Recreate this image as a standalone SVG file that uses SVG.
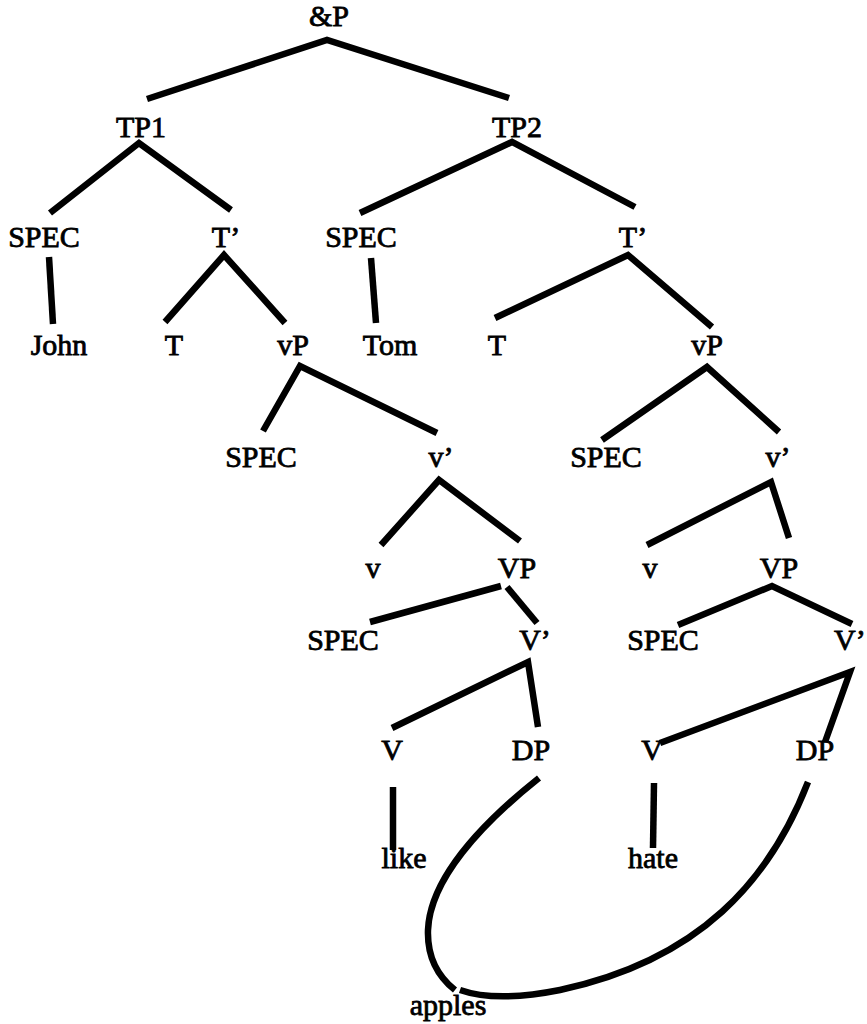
<svg xmlns="http://www.w3.org/2000/svg" width="867" height="1024" viewBox="0 0 867 1024">
  <style>
    text { font-family: "Liberation Serif", "Times New Roman", serif; font-size: 30px; fill: #000; stroke: #000; stroke-width: 0.8; text-anchor: middle; }
    .edge { fill: none; stroke: #000; stroke-width: 6.5; stroke-linecap: butt; stroke-linejoin: miter; }
  </style>
  <rect width="867" height="1024" fill="#fff"/>

  <!-- branches of the tree -->
  <g id="connectors">
    <polyline class="edge" points="147,99 327,40 509,98"/>
    <polyline class="edge" points="50,213 139,143 231,210"/>
    <polyline class="edge" points="360,213 512,142 635,207"/>
    <line class="edge" x1="49" y1="257" x2="53" y2="324"/>
    <polyline class="edge" points="165,322 224,255 285,323"/>
    <line class="edge" x1="371" y1="258" x2="376" y2="323"/>
    <polyline class="edge" points="495,318 628,255 712,327"/>
    <polyline class="edge" points="263,431 300,366 437,433"/>
    <polyline class="edge" points="602,440 707,367 779,432"/>
    <polyline class="edge" points="381,545 439,480 520,541"/>
    <polyline class="edge" points="647,545 771,482 789,538"/>
    <line class="edge" x1="370" y1="622" x2="501" y2="586"/>
    <line class="edge" x1="507" y1="587" x2="537" y2="623"/>
    <polyline class="edge" points="678,625 772,586 852,624"/>
    <polyline class="edge" points="392,728 528,662 538,727"/>
    <polyline class="edge" points="660,743 850,672 825,742"/>
    <line class="edge" x1="393" y1="787" x2="393" y2="850"/>
    <line class="edge" x1="654" y1="783" x2="653" y2="848"/>
    <!-- both DPs share the object "apples" -->
    <path class="edge" d="M539,778 C480,825 430,880 428,930 C427,960 440,978 455,990"/>
    <path class="edge" d="M808,782 C770,880 700,960 560,990 C510,1000 480,997 460,990"/>
  </g>

  <g id="andP"><text x="329" y="26">&amp;P</text></g>
  <g id="TP1"><text x="141" y="137">TP1</text></g>
  <g id="TP2"><text x="517" y="137">TP2</text></g>
  <g id="SPEC-TP1"><text x="44" y="247">SPEC</text></g>
  <g id="Tbar-1"><text x="226" y="247">T’</text></g>
  <g id="SPEC-TP2"><text x="361" y="247">SPEC</text></g>
  <g id="Tbar-2"><text x="633" y="247">T’</text></g>
  <g id="John"><text x="59" y="355">John</text></g>
  <g id="T-1"><text x="174" y="355">T</text></g>
  <g id="vP-1"><text x="293" y="355">vP</text></g>
  <g id="Tom"><text x="390" y="355">Tom</text></g>
  <g id="T-2"><text x="497" y="355">T</text></g>
  <g id="vP-2"><text x="707" y="355">vP</text></g>
  <g id="SPEC-vP1"><text x="261" y="467">SPEC</text></g>
  <g id="vbar-1"><text x="441" y="467">v’</text></g>
  <g id="SPEC-vP2"><text x="606" y="467">SPEC</text></g>
  <g id="vbar-2"><text x="778" y="467">v’</text></g>
  <g id="v-1"><text x="373" y="578">v</text></g>
  <g id="VP-1"><text x="517" y="578">VP</text></g>
  <g id="v-2"><text x="650" y="578">v</text></g>
  <g id="VP-2"><text x="779" y="578">VP</text></g>
  <g id="SPEC-VP1"><text x="343" y="650">SPEC</text></g>
  <g id="Vbar-1"><text x="535" y="650">V’</text></g>
  <g id="SPEC-VP2"><text x="663" y="650">SPEC</text></g>
  <g id="Vbar-2"><text x="834" y="650" style="text-anchor:start">V’</text></g>
  <g id="V-1"><text x="392" y="760">V</text></g>
  <g id="DP-1"><text x="531" y="760">DP</text></g>
  <g id="V-2"><text x="652" y="760">V</text></g>
  <g id="DP-2"><text x="815" y="760">DP</text></g>
  <g id="like"><text x="404" y="868">like</text></g>
  <g id="hate"><text x="653" y="868">hate</text></g>
  <g id="apples"><text x="448" y="1015">apples</text></g>
</svg>
